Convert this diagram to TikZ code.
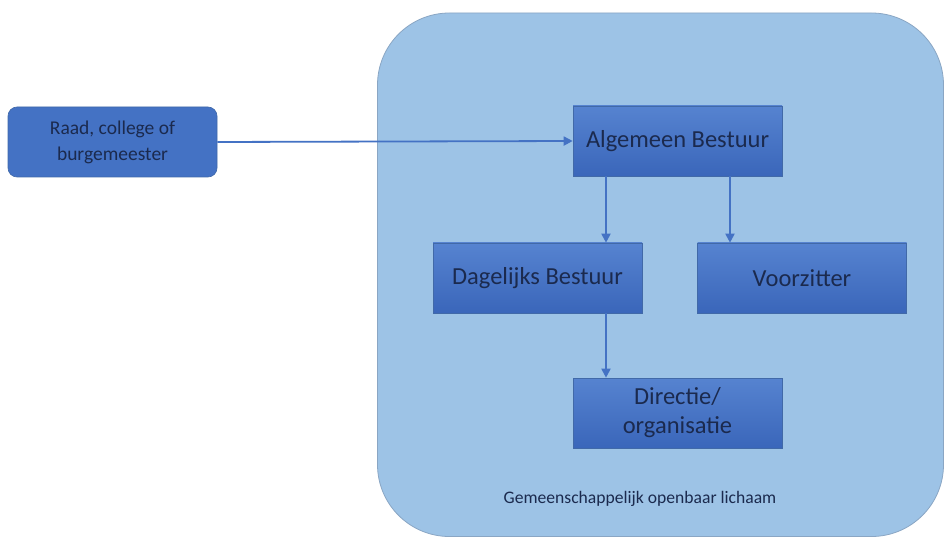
\documentclass[tikz,border=0pt]{standalone}
\usepackage{fontspec}
\setmainfont{Carlito}
\usetikzlibrary{arrows.meta}

\definecolor{lichaamblue}{HTML}{9DC3E6}
\definecolor{lichaamrand}{HTML}{8AA6C4}
\definecolor{boxtop}{HTML}{5683D0}
\definecolor{boxbottom}{HTML}{3A66BA}
\definecolor{boxrand}{HTML}{4169A8}
\definecolor{raadblue}{HTML}{4472C4}
\definecolor{tekstblauw}{HTML}{1B2A4E}
\definecolor{pijlblauw}{HTML}{4472C4}

\tikzset{
  orgaan/.style={rectangle, minimum width=209, minimum height=70, inner sep=0,
    top color=boxtop, bottom color=boxbottom, draw=boxrand, line width=0.6,
    text=tekstblauw, align=center, font=\fontsize{24.5}{29}\selectfont},
  pijl/.style={-{Triangle[length=9,width=9]}, draw=pijlblauw, line width=1.8}
}

\begin{document}
\begin{tikzpicture}[x=1pt,y=-1pt]
  \useasboundingbox (0,0) rectangle (944,537);
  \fill[white] (0,0) rectangle (944,537);

  % Gemeenschappelijk openbaar lichaam
  \draw[fill=lichaamblue, draw=lichaamrand, line width=0.8, rounded corners=72]
    (377.5,13) rectangle (943.5,536.5);
  \node[text=tekstblauw, font=\fontsize{17.6}{20}\selectfont] (lichaam) at (640,499)
    {Gemeenschappelijk openbaar lichaam};

  % Raad
  \node[rectangle, rounded corners=9, minimum width=209, minimum height=70, inner sep=0,
    fill=raadblue, draw=boxrand, line width=0.6, text=tekstblauw, align=center,
    font=\fontsize{19.5}{26}\selectfont] (raad) at (112.5,142)
    {Raad, college of\\burgemeester};

  % Organen
  \node[orgaan] (ab) at (677.5,141) {Algemeen Bestuur};
  \node[orgaan] (db) at (537.5,278) {Dagelijks Bestuur};
  \node[orgaan] (vz) at (802,278) {Voorzitter};
  \node[orgaan] (dir) at (677.5,413) {Directie/\\organisatie};

  % Pijlen
  \draw[pijl] (ab.south -| db.center) ++(68.5,0) coordinate (abdb) -- (abdb |- db.north);
  \draw[pijl] (raad.east) -- (ab.west);
  \draw[pijl] (ab.south) ++(52.5,0) coordinate (abvz) -- (abvz |- vz.north);
  \draw[pijl] (db.south) ++(68.5,0) coordinate (dbdir) -- (dbdir |- dir.north);
\end{tikzpicture}
\end{document}
